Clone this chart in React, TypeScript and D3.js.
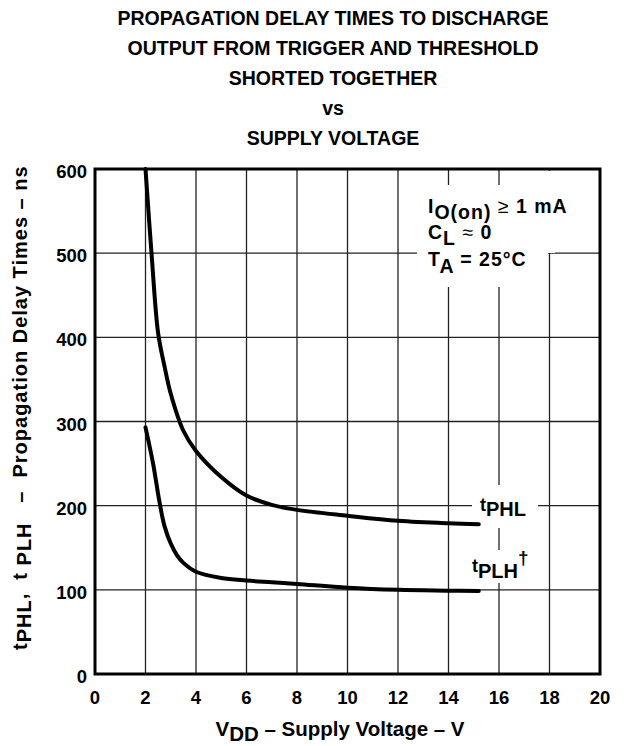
import * as d3 from "d3";

// tPHL curve (V, ns)
const phlVolts = [2, 2.25, 2.5, 2.75, 3, 3.5, 4, 5, 6, 7, 8, 10, 12, 14, 15.2];
const phlDelay = [600, 495, 405, 366, 333, 289, 265, 234, 212, 201, 195, 188, 182, 179, 178];

// tPLH curve
const plhVolts = [2, 2.3, 2.55, 2.75, 3, 3.25, 3.5, 4, 5, 6, 7, 8, 10, 12, 14, 15.2];
const plhDelay = [293, 250, 205, 176, 155, 141, 132, 121.5, 114, 111, 109, 107, 102.5, 100, 99, 98.5];

const xTicks = [0, 2, 4, 6, 8, 10, 12, 14, 16, 18, 20];
const yTicks = [0, 100, 200, 300, 400, 500, 600];

const titleLines = [
  "PROPAGATION DELAY TIMES TO DISCHARGE",
  "OUTPUT FROM TRIGGER AND THRESHOLD",
  "SHORTED TOGETHER",
  "vs",
  "SUPPLY VOLTAGE",
];

const W = 625;
const H = 746;
const margin = { top: 169, right: 25, bottom: 72, left: 95 };
const font = "'Liberation Sans', Arial, sans-serif";

export default function App() {
  const x = d3.scaleLinear().domain([0, 20]).range([margin.left, W - margin.right]);
  const y = d3.scaleLinear().domain([0, 600]).range([H - margin.bottom, margin.top]);

  const line = d3
    .line<[number, number]>()
    .x((d) => x(d[0]))
    .y((d) => y(d[1]))
    .curve(d3.curveCatmullRom.alpha(0.5));

  const phl = line(phlVolts.map((v, i) => [v, phlDelay[i]] as [number, number])) || "";
  const plh = line(plhVolts.map((v, i) => [v, plhDelay[i]] as [number, number])) || "";

  return (
    <svg
      width={W}
      height={H}
      style={{ position: "absolute", left: 0, top: 0, background: "#fff" }}
      fontFamily={font}
      fontWeight="bold"
    >
      {titleLines.map((t, i) => (
        <text key={t} x={333} y={25 + i * 30} textAnchor="middle" fontSize={19.5}>
          {t}
        </text>
      ))}

      {/* grid */}
      {xTicks.slice(1, -1).map((t) => (
        <line key={"gx" + t} x1={x(t)} x2={x(t)} y1={y(0)} y2={y(600)} stroke="#222" strokeWidth={1.3} />
      ))}
      {yTicks.slice(1, -1).map((t) => (
        <line key={"gy" + t} x1={x(0)} x2={x(20)} y1={y(t)} y2={y(t)} stroke="#222" strokeWidth={1.3} />
      ))}

      {/* white boxes behind the notes */}
      <rect x={417} y={185} width={131} height={102} fill="#fff" />
      <rect x={545} y={171} width={10} height={82} fill="#fff" />
      <rect x={472} y={485} width={66} height={43} fill="#fff" />
      <rect x={468} y={550} width={67} height={33} fill="#fff" />

      {/* frame */}
      <rect
        x={x(0)}
        y={y(600)}
        width={x(20) - x(0)}
        height={y(0) - y(600)}
        fill="none"
        stroke="#000"
        strokeWidth={3}
      />

      {/* curves */}
      <path d={phl} fill="none" stroke="#000" strokeWidth={4} strokeLinecap="round" />
      <path d={plh} fill="none" stroke="#000" strokeWidth={4} strokeLinecap="round" />

      {/* tick labels */}
      {yTicks.map((t) => (
        <text key={"ty" + t} x={87} y={y(t) + 9} textAnchor="end" fontSize={18.5}>
          {t}
        </text>
      ))}
      {xTicks.map((t) => (
        <text key={"tx" + t} x={x(t)} y={704} textAnchor="middle" fontSize={18.5}>
          {t}
        </text>
      ))}

      {/* axis titles */}
      <text x={340} y={736} textAnchor="middle" fontSize={20.5}>
        V<tspan dy={5}>DD</tspan>
        <tspan dy={-5}> – Supply Voltage – V</tspan>
      </text>
      <text
        transform="translate(27,650) rotate(-90)"
        fontSize={20}
        letterSpacing={1}
        style={{ whiteSpace: "pre" }}
      >
        t<tspan dy={4}>PHL</tspan>
        <tspan dy={-4}>{",  t "}</tspan>
        <tspan dy={4}>PLH</tspan>
        <tspan dy={-4}>{"   –  Propagation Delay Times – ns"}</tspan>
      </text>

      {/* conditions */}
      <g fontSize={19.5} letterSpacing={1}>
        <text x={428} y={213}>
          I<tspan dy={6}>O(on)</tspan>
          <tspan dy={-6} fontWeight="normal"> ≥</tspan>
          <tspan> 1 mA</tspan>
        </text>
        <text x={428} y={239}>
          C<tspan dy={6}>L</tspan>
          <tspan dy={-6} fontWeight="normal"> ≈</tspan>
          <tspan> 0</tspan>
        </text>
        <text x={428} y={266}>
          T<tspan dy={7}>A</tspan>
          <tspan dy={-7}> = 25°C</tspan>
        </text>
      </g>

      {/* curve labels */}
      <text x={480} y={511} fontSize={18}>
        t<tspan dy={5} fontSize={20}>PHL</tspan>
      </text>
      <text x={472} y={572} fontSize={18}>
        t<tspan dy={6} fontSize={20}>PLH</tspan>
        <tspan dy={-14} fontSize={19}>†</tspan>
      </text>
    </svg>
  );
}
